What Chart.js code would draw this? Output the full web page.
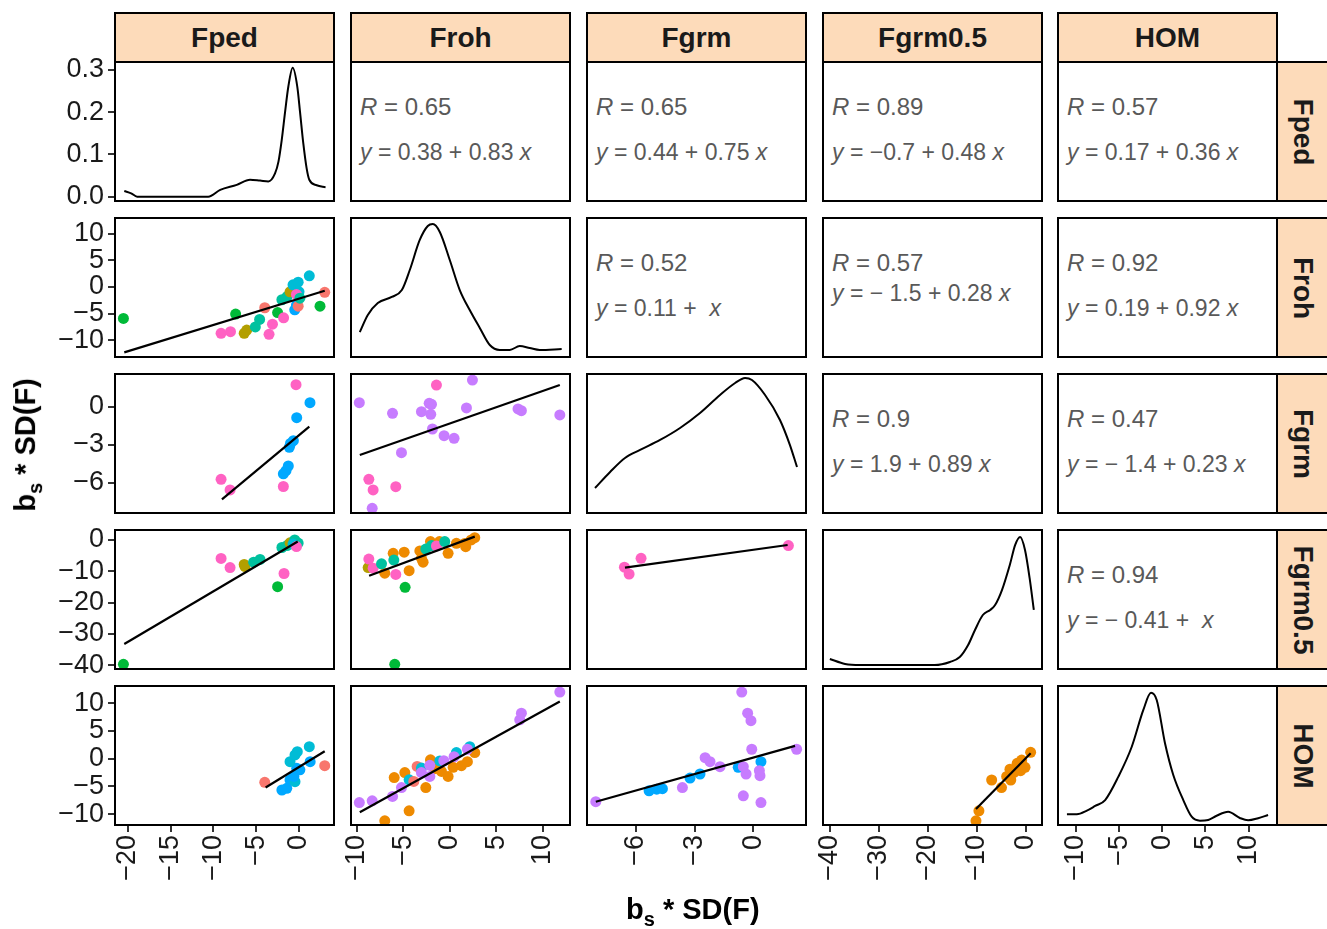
<!DOCTYPE html>
<html>
<head>
<meta charset="utf-8">
<script src="https://cdn.jsdelivr.net/npm/chart.js@4.4.0/dist/chart.umd.min.js"></script>
<style>
body { margin: 0; width: 1327px; height: 929px; position: relative; overflow: hidden; background: #fff; font-family: "Liberation Sans", Arial, sans-serif; }
.cv { position: absolute; }
.frame { position: absolute; border: 2px solid #000; box-sizing: border-box; pointer-events: none; }
.strip { position: absolute; background: #FDDBBA; border: 2px solid #000; box-sizing: border-box; font-weight: bold; font-size: 28px; color: #1a1a1a; display: flex; align-items: center; justify-content: center; }
.strip.side span { transform: rotate(90deg); white-space: nowrap; }
.stat { position: absolute; color: #595959; font-size: 24px; white-space: pre; line-height: 26px; }
.stat.fit { font-size: 23px; }
.title { position: absolute; font-weight: bold; font-size: 29px; color: #000; white-space: nowrap; }
.title sub { font-size: 20px; }
</style>
</head>
<body>
<script>
// variables in panel order
const vars = ['Fped', 'Froh', 'Fgrm', 'Fgrm0.5', 'HOM'];

// axis limits and ticks per column (x) and row (y)
const xLimits = [[-21.6, 4.2], [-10.7, 13.0], [-8.54, 2.74], [-41.6, 3.47], [-12.2, 13.4]];
const yLimits = [[-0.0126, 0.321], [-13.35, 13.16], [-8.47, 2.66], [-41.5, 3.5], [-12.13, 13.28]];
const xTicks = [[-20, -15, -10, -5, 0], [-10, -5, 0, 5, 10], [-6, -3, 0], [-40, -30, -20, -10, 0], [-10, -5, 0, 5, 10]];
const yTicks = [[0, 0.1, 0.2, 0.3], [-10, -5, 0, 5, 10], [-6, -3, 0], [-40, -30, -20, -10, 0], [-10, -5, 0, 5, 10]];

// diagonal densities (Fped in density units, others scaled to panel height)
const fpedDensX = [-20.4, -19.6, -18.9, -10.6, -9.2, -7.27, -5.72, -4.55, -3.58, -2.8, -2.4, -2.02, -1.63, -1.25, -0.74, -0.2, 0.12, 0.5, 0.89, 1.2, 2.06, 3.1];
const fpedDensY = [0.0135, 0.008, 0, 0, 0.016, 0.028, 0.04, 0.038, 0.036, 0.055, 0.083, 0.134, 0.2, 0.26, 0.305, 0.26, 0.2, 0.126, 0.067, 0.04, 0.027, 0.022];
const frohDensX = [-9.65, -8.79, -7.72, -6.22, -5.14, -4.29, -3.22, -2.36, -1.82, -1.07, 0, 1.07, 2.14, 3.22, 4.29, 5.36, 6.43, 7.5, 8.57, 9.65, 12.0];
const frohDensY = [0.184, 0.305, 0.39, 0.433, 0.482, 0.624, 0.837, 0.936, 0.95, 0.894, 0.695, 0.482, 0.34, 0.213, 0.092, 0.057, 0.057, 0.085, 0.071, 0.057, 0.064];
const fgrmDensX = [-8.08, -7.31, -6.55, -5.78, -4.76, -3.74, -2.72, -1.7, -0.93, -0.42, -0.07, 0.6, 1.36, 1.87, 2.23];
const fgrmDensY = [0.184, 0.298, 0.397, 0.454, 0.525, 0.61, 0.716, 0.844, 0.929, 0.965, 0.95, 0.844, 0.667, 0.489, 0.333];
const fgrm05DensX = [-40, -36.9, -33.9, -18.6, -15.5, -13.5, -11.8, -10.4, -8.8, -7.3, -6.3, -4.9, -3.3, -2.2, -1.2, -0.2, 0.8, 1.6];
const fgrm05DensY = [0.078, 0.043, 0.035, 0.035, 0.057, 0.092, 0.177, 0.284, 0.39, 0.426, 0.461, 0.567, 0.745, 0.887, 0.943, 0.851, 0.638, 0.426];
const homDensX = [-11.05, -9.9, -8.74, -7.78, -6.62, -5.09, -3.54, -2.2, -1.31, -0.65, 0.31, 1.27, 2.43, 3.4, 4.36, 5.32, 6.29, 7.63, 8.98, 9.94, 11.1, 12.25];
const homDensY = [0.083, 0.083, 0.109, 0.142, 0.184, 0.35, 0.562, 0.823, 0.945, 0.894, 0.587, 0.362, 0.184, 0.066, 0.038, 0.043, 0.073, 0.101, 0.057, 0.04, 0.055, 0.078];

// lower panels: Froh ~ Fped
const frohFpedX = [-20.5, -7.4, -9.1, -8.0, -6.4, -6.1, -5.1, -4.6, -3.5, -3.1, -4.0, -2.5, -1.8, -2.0, -1.4, -1.05, -0.7, -0.1, -0.5, -0.3, 0.0, -0.3, -0.1, 1.2, 3.0, 2.45, 0.1];
const frohFpedY = [-5.9, -5.1, -8.7, -8.4, -8.7, -8.1, -7.5, -6.1, -8.9, -7.0, -3.9, -4.8, -5.8, -2.4, -1.8, -0.9, 0.4, 0.9, -4.3, -3.4, -0.9, -1.4, -3.6, 2.1, -1.0, -3.6, -2.1];
const frohFpedG = ['green', 'green', 'pink', 'pink', 'olive', 'olive', 'teal', 'teal', 'pink', 'pink', 'red', 'green', 'pink', 'teal', 'teal', 'olive', 'cyan', 'cyan', 'blue', 'blue', 'cyan', 'pink', 'red', 'cyan', 'red', 'green', 'teal'];
const frohFpedFitX = [-20.4, 3.0], frohFpedFitY = [-12.3, -0.7];

// Fgrm ~ Fped
const fgrmFpedX = [-0.35, 1.28, -0.27, -0.66, -1.13, -1.0, -1.25, -1.52, -1.83, -1.83, -9.1, -8.05];
const fgrmFpedY = [1.74, 0.32, -0.87, -2.68, -3.2, -2.9, -4.68, -5.05, -5.3, -6.3, -5.73, -6.57];
const fgrmFpedG = ['pink', 'blue', 'blue', 'blue', 'blue', 'blue', 'blue', 'blue', 'blue', 'pink', 'pink', 'pink'];
const fgrmFpedFitX = [-9.0, 1.2], fgrmFpedFitY = [-7.31, -1.58];

// Fgrm0.5 ~ Fped
const fgrm05FpedX = [-20.5, -9.1, -8.05, -6.4, -6.3, -5.3, -4.55, -2.5, -1.75, -2.0, -1.4, -1.05, -0.5, -0.1, -0.7, -0.3];
const fgrm05FpedY = [-39.7, -5.9, -8.8, -7.8, -8.5, -7.1, -6.2, -14.9, -10.7, -2.4, -1.8, -0.9, 0, -1.0, -1.3, -2.1];
const fgrm05FpedG = ['green', 'pink', 'pink', 'olive', 'olive', 'teal', 'teal', 'green', 'pink', 'teal', 'teal', 'olive', 'teal', 'teal', 'cyan', 'pink'];
const fgrm05FpedFitX = [-20.4, -0.15], fgrm05FpedFitY = [-33.2, -0.5];

// HOM ~ Fped
const homFpedX = [-4.0, 3.0, -2.0, -1.43, -1.05, -0.47, -0.6, -0.27, -1.05, -0.47, -0.2, 1.2, 1.3, 0.1];
const homFpedY = [-4.26, -1.26, -5.64, -5.34, -3.84, -4.14, -3.2, -1.73, -0.54, 0.67, 1.26, 2.16, -0.54, -2.0];
const homFpedG = ['red', 'red', 'blue', 'blue', 'blue', 'cyan', 'blue', 'blue', 'cyan', 'cyan', 'cyan', 'cyan', 'blue', 'blue'];
const homFpedFitX = [-3.9, 3.0], homFpedFitY = [-5.2, 1.33];

// Fgrm ~ Froh
const fgrmFrohX = [-9.7, -1.43, 2.43, -6.14, -3.04, -2.21, -1.96, -2.04, -1.86, -0.61, 0.46, 1.79, 7.32, 7.68, 11.8, -5.18, -8.68, -8.22, -5.79, -8.32];
const fgrmFrohY = [0.32, 1.71, 2.1, -0.52, -0.39, 0.27, 0.19, -0.6, -1.76, -2.29, -2.5, -0.1, -0.18, -0.31, -0.65, -3.63, -5.73, -6.57, -6.31, -8.02];
const fgrmFrohG = ['purple', 'pink', 'purple', 'purple', 'purple', 'purple', 'purple', 'purple', 'purple', 'purple', 'purple', 'purple', 'purple', 'purple', 'purple', 'purple', 'pink', 'pink', 'pink', 'purple'];
const fgrmFrohFitX = [-9.65, 11.8], fgrmFrohFitY = [-3.81, 1.71];

// Fgrm0.5 ~ Froh
const fgrm05FrohX = [-6.97, -6.07, -4.89, -4.36, -3.21, -2.86, -2.07, -0.18, -1.1, 0.71, 1.71, 1.6, 2.68, 2.3, -3.04, -5.9, -4.79, -8.75, -8.68, -8.22, -7.32, -5.79, -6.0, -2.57, -1.96, -1.43, -0.54];
const fgrm05FrohY = [-10.6, -4.25, -3.9, -9.8, -3.5, -7.1, -0.5, -4.25, -0.5, -1.07, -2.13, -1.1, 0.74, 0.0, -5.85, -39.7, -15.1, -8.8, -6.1, -9.0, -7.6, -11.0, -6.4, -2.9, -1.8, -1.9, -0.5];
const fgrm05FrohG = ['orange', 'orange', 'orange', 'orange', 'orange', 'orange', 'orange', 'orange', 'orange', 'orange', 'orange', 'orange', 'orange', 'orange', 'orange', 'green', 'green', 'olive', 'pink', 'pink', 'teal', 'pink', 'teal', 'teal', 'teal', 'pink', 'teal'];
const fgrm05FrohFitX = [-8.65, 2.68], fgrm05FrohFitY = [-11.4, 1.07];

// HOM ~ Froh
const homFrohX = [-6.97, -5.96, -4.36, -4.82, -2.57, -2.07, -0.89, -0.18, 0.36, 1.25, 1.89, 2.68, -1.6, -4.36, -3.86, -3.5, -3.04, -1.07, 0.71, 2.14, -9.7, -8.32, -6.14, -5.18, -3.04, -2.14, -2.14, -0.64, 0.46, 1.89, 7.5, 7.68, 11.8];
const homFrohY = [-11.2, -3.4, -9.4, -2.5, -5.2, -0.2, -2.3, -3.2, -1.55, -1.25, -0.54, 1.1, -1.8, -3.8, -4.1, -1.4, -1.7, -0.4, 1.1, 2.16, -7.9, -7.6, -6.8, -5.2, -2.5, -1.2, -3.2, -0.35, 0.35, 1.7, 7.0, 8.2, 12.0];
const homFrohG = ['orange', 'orange', 'orange', 'orange', 'orange', 'orange', 'orange', 'orange', 'orange', 'orange', 'orange', 'orange', 'orange', 'cyan', 'red', 'red', 'cyan', 'cyan', 'cyan', 'cyan', 'purple', 'purple', 'purple', 'purple', 'purple', 'purple', 'purple', 'purple', 'purple', 'purple', 'purple', 'purple', 'purple'];
const homFrohFitX = [-9.65, 11.8], homFrohFitY = [-9.66, 10.3];

// Fgrm0.5 ~ Fgrm
const fgrm05FgrmX = [-6.58, -6.34, -5.73, 1.79];
const fgrm05FgrmY = [-8.7, -10.9, -5.85, -1.8];
const fgrm05FgrmG = ['pink', 'pink', 'pink', 'pink'];
const fgrm05FgrmFitX = [-6.55, 1.75], fgrm05FgrmFitY = [-8.8, -1.6];

// HOM ~ Fgrm
const homFgrmX = [-8.04, -5.32, -4.93, -4.64, -3.62, -3.23, -2.72, -2.46, -2.21, -1.7, -0.77, -0.51, -0.37, -0.51, -0.59, -0.29, -0.12, -0.08, 0.39, 0.31, 0.34, 0.39, 2.21];
const homFgrmY = [-7.75, -5.8, -5.5, -5.4, -5.2, -3.5, -2.76, 0.18, -0.54, -1.44, -1.55, -1.44, -2.76, -6.7, 12.0, 8.2, 6.85, 1.7, -0.54, -2.16, -3.06, -7.9, 1.7];
const homFgrmG = ['purple', 'blue', 'blue', 'blue', 'purple', 'blue', 'blue', 'purple', 'purple', 'purple', 'blue', 'purple', 'purple', 'purple', 'purple', 'purple', 'purple', 'purple', 'blue', 'purple', 'purple', 'purple', 'purple'];
const homFgrmFitX = [-8.04, 2.13], homFgrmFitY = [-7.75, 2.3];

// HOM ~ Fgrm0.5
const homFgrm05X = [-10.2, -9.6, -7.0, -5.0, -3.94, -3.1, -3.27, -1.8, -0.88, -1.1, -0.2, 0.95, -2.5];
const homFgrm05Y = [-11.2, -9.4, -3.84, -5.2, -3.2, -3.84, -1.9, -0.83, -0.24, -2.16, -1.55, 1.15, -2.5];
const homFgrm05G = ['orange', 'orange', 'orange', 'orange', 'orange', 'orange', 'orange', 'orange', 'orange', 'orange', 'orange', 'orange', 'orange'];
const homFgrm05FitX = [-10.2, 0.95], homFgrm05FitY = [-9.06, 0.97];

// upper panels: correlation and fit text
const statCells = [[0, 1], [0, 2], [0, 3], [0, 4], [1, 2], [1, 3], [1, 4], [2, 3], [2, 4], [3, 4]];
const statR = ['0.65', '0.65', '0.89', '0.57', '0.52', '0.57', '0.92', '0.9', '0.47', '0.94'];
const statIntercept = ['0.38', '0.44', '\u22120.7', '0.17', '0.11', '\u2212 1.5', '0.19', '1.9', '\u2212 1.4', '\u2212 0.41'];
const statSlope = ['0.83', '0.75', '0.48', '0.36', '', '0.28', '0.92', '0.89', '0.23', ''];

const groupColours = {
    red: '#F8766D', orange: '#EE8A00', olive: '#B39F00', green: '#00BA38', teal: '#00C19F',
    cyan: '#00BCD6', blue: '#00A8FF', purple: '#C77CFF', pink: '#FF62C3'
};

// layout
const colL = [114, 350, 586, 822, 1057];
const rowT = [61, 217, 373, 529, 685];
const panelW = 221, panelH = 141;
const margin = 20; // spare room round each canvas so edge tick labels are not cut
const tickFont = { family: '"Liberation Sans", Arial, sans-serif', size: 27 };
const tickGrid = { display: true, drawOnChartArea: false, drawTicks: true, tickLength: 6, color: '#333333', lineWidth: 2 };

function fmtTick(v, dec) {
    const s = dec ? v.toFixed(1) : String(v);
    return s.replace('-', '\u2212');
}

function toPoints(xs, ys) {
    return xs.map((x, i) => ({ x, y: ys[i] }));
}

function scatterSets(xs, ys, gs, fitX, fitY) {
    return [
        { data: toPoints(fitX, fitY), showLine: true, borderColor: '#000', borderWidth: 2.2, pointRadius: 0 },
        { data: toPoints(xs, ys), pointRadius: 5.5, pointBorderWidth: 0, pointBackgroundColor: gs.map(g => groupColours[g]) }
    ];
}

function densitySet(xs, ys) {
    return [{ data: toPoints(xs, ys), showLine: true, borderColor: '#000', borderWidth: 2, pointRadius: 0, cubicInterpolationMode: 'monotone' }];
}

function noPad(s) {
    s.paddingTop = 0; s.paddingBottom = 0; s.paddingLeft = 0; s.paddingRight = 0;
}

function addPanel(r, c, datasets, yMin, yMax) {
    const showY = c === 0, showX = r === 4;
    const padL = showY ? 74 : 0, padB = showX ? 72 : 0;
    const cv = document.createElement('canvas');
    cv.width = panelW + padL + 2 * margin;
    cv.height = panelH + padB + 2 * margin;
    cv.className = 'cv';
    cv.style.left = (colL[c] - padL - margin) + 'px';
    cv.style.top = (rowT[r] - margin) + 'px';
    document.body.appendChild(cv);
    new Chart(cv.getContext('2d'), {
        type: 'scatter',
        data: { datasets },
        options: {
            responsive: false, animation: false, events: [],
            layout: { padding: margin, autoPadding: false },
            plugins: { legend: { display: false }, tooltip: { enabled: false } },
            scales: {
                x: {
                    type: 'linear', min: xLimits[c][0], max: xLimits[c][1], display: showX,
                    afterFit: s => { s.height = padB; noPad(s); },
                    afterBuildTicks: s => { s.ticks = xTicks[c].map(v => ({ value: v })); },
                    grid: tickGrid, border: { display: false },
                    ticks: { font: tickFont, color: '#1a1a1a', minRotation: 90, maxRotation: 90, padding: 3, autoSkip: false, callback: v => fmtTick(v) }
                },
                y: {
                    type: 'linear', min: yMin, max: yMax, display: showY,
                    afterFit: s => { s.width = padL; noPad(s); },
                    afterBuildTicks: s => { s.ticks = yTicks[r].map(v => ({ value: v })); },
                    grid: tickGrid, border: { display: false },
                    ticks: { font: tickFont, color: '#1a1a1a', padding: 4, autoSkip: false, callback: v => fmtTick(v, r === 0) }
                }
            }
        }
    });
}

function addDiv(cls, left, top, width, height, html) {
    const d = document.createElement('div');
    d.className = cls;
    d.style.left = left + 'px';
    d.style.top = top + 'px';
    if (width != null) d.style.width = width + 'px';
    if (height != null) d.style.height = height + 'px';
    if (html != null) d.innerHTML = html;
    document.body.appendChild(d);
    return d;
}

// diagonal
addPanel(0, 0, densitySet(fpedDensX, fpedDensY), yLimits[0][0], yLimits[0][1]);
addPanel(1, 1, densitySet(frohDensX, frohDensY), 0, 1);
addPanel(2, 2, densitySet(fgrmDensX, fgrmDensY), 0, 1);
addPanel(3, 3, densitySet(fgrm05DensX, fgrm05DensY), 0, 1);
addPanel(4, 4, densitySet(homDensX, homDensY), 0, 1);

// lower triangle
addPanel(1, 0, scatterSets(frohFpedX, frohFpedY, frohFpedG, frohFpedFitX, frohFpedFitY), yLimits[1][0], yLimits[1][1]);
addPanel(2, 0, scatterSets(fgrmFpedX, fgrmFpedY, fgrmFpedG, fgrmFpedFitX, fgrmFpedFitY), yLimits[2][0], yLimits[2][1]);
addPanel(3, 0, scatterSets(fgrm05FpedX, fgrm05FpedY, fgrm05FpedG, fgrm05FpedFitX, fgrm05FpedFitY), yLimits[3][0], yLimits[3][1]);
addPanel(4, 0, scatterSets(homFpedX, homFpedY, homFpedG, homFpedFitX, homFpedFitY), yLimits[4][0], yLimits[4][1]);
addPanel(2, 1, scatterSets(fgrmFrohX, fgrmFrohY, fgrmFrohG, fgrmFrohFitX, fgrmFrohFitY), yLimits[2][0], yLimits[2][1]);
addPanel(3, 1, scatterSets(fgrm05FrohX, fgrm05FrohY, fgrm05FrohG, fgrm05FrohFitX, fgrm05FrohFitY), yLimits[3][0], yLimits[3][1]);
addPanel(4, 1, scatterSets(homFrohX, homFrohY, homFrohG, homFrohFitX, homFrohFitY), yLimits[4][0], yLimits[4][1]);
addPanel(3, 2, scatterSets(fgrm05FgrmX, fgrm05FgrmY, fgrm05FgrmG, fgrm05FgrmFitX, fgrm05FgrmFitY), yLimits[3][0], yLimits[3][1]);
addPanel(4, 2, scatterSets(homFgrmX, homFgrmY, homFgrmG, homFgrmFitX, homFgrmFitY), yLimits[4][0], yLimits[4][1]);
addPanel(4, 3, scatterSets(homFgrm05X, homFgrm05Y, homFgrm05G, homFgrm05FitX, homFgrm05FitY), yLimits[4][0], yLimits[4][1]);

// upper triangle text
statCells.forEach(([r, c], i) => {
    const yOff = (r === 1 && c === 3) ? 63 : 78;
    addDiv('stat', colL[c] + 10, rowT[r] + 33, null, null, '<i>R</i> = ' + statR[i]);
    const slope = statSlope[i] ? statSlope[i] + ' ' : ' ';
    addDiv('stat fit', colL[c] + 10, rowT[r] + yOff, null, null, '<i>y</i> = ' + statIntercept[i] + ' + ' + slope + '<i>x</i>');
});

// frames
for (let r = 0; r < 5; r++) {
    for (let c = 0; c < 5; c++) addDiv('frame', colL[c], rowT[r], panelW, panelH);
}

// strips
vars.forEach((v, i) => {
    addDiv('strip', colL[i], 12, panelW, 51, v);
    addDiv('strip side', colL[4] + panelW - 2, rowT[i], 54, panelH, '<span>' + v + '</span>');
});

// axis titles
addDiv('title', 626, 893, null, null, 'b<sub>s</sub> * SD(F)');
const yt = addDiv('title', -52, 426, 160, null, 'b<sub>s</sub> * SD(F)');
yt.style.transform = 'rotate(-90deg)';
yt.style.textAlign = 'center';
</script>
</body>
</html>
